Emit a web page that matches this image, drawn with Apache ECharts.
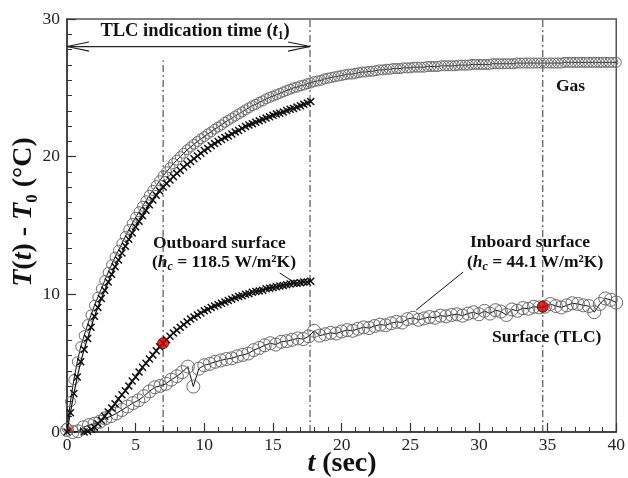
<!DOCTYPE html>
<html><head><meta charset="utf-8">
<script src="https://cdn.jsdelivr.net/npm/echarts@6/dist/echarts.min.js"></script>
<style>html,body{margin:0;padding:0;background:#fff}#c{width:628px;height:478px}</style>
</head><body><div id="c"></div>
<script>
// ---- data ----
const gasStart = 0, gasStep = 0.25;
const gasValues = [0.3,2.2,3.8,5.1,
6.2,7.0,7.8,8.5, 9.2,9.8,10.4,11.0, 11.6,12.15,12.7,13.2, 13.7,14.2,14.7,15.15,
15.6,16.0,16.4,16.8, 17.2,17.55,17.9,18.25, 18.6,18.9,19.2,19.5, 19.75,20.0,20.25,20.5,
20.7,20.9,21.1,21.3, 21.45,21.65,21.8,22.0, 22.15,22.3,22.5,22.65, 22.8,22.95,23.1,23.25,
23.4,23.55,23.7,23.8, 23.95,24.05,24.2,24.3, 24.4,24.5,24.6,24.7, 24.8,24.9,25.0,25.05,
25.15,25.2,25.3,25.35, 25.45,25.5,25.55,25.65, 25.7,25.75,25.8,25.85, 25.9,25.95,26.0,26.0,
26.05,26.1,26.15,26.15, 26.2,26.2,26.25,26.3, 26.3,26.35,26.35,26.4, 26.4,26.4,26.45,26.45,
26.45,26.5,26.5,26.5, 26.5,26.55,26.55,26.55, 26.55,26.6,26.6,26.6, 26.6,26.6,26.65,26.65,
26.65,26.65,26.7,26.7, 26.7,26.7,26.7,26.7, 26.75,26.75,26.75,26.75, 26.75,26.75,26.75,26.8,
26.8,26.8,26.8,26.8, 26.8,26.8,26.8,26.8, 26.8,26.8,26.8,26.8, 26.8,26.85,26.85,26.85,
26.85,26.85,26.85,26.85, 26.85,26.85,26.85,26.85, 26.85,26.85,26.85,26.85, 26.85];

const outGasStart = 0, outGasStep = 0.25;
const outGasValues = [0.0,1.4,2.8,4.0, 5.1,6.0,6.8,7.6, 8.4,9.05,9.7,10.3, 10.9,11.45,12.0,12.5,
13.0,13.5,14.0,14.45, 14.9,15.3,15.7,16.1, 16.5,16.85,17.2,17.5, 17.8,18.05,18.3,18.55,
18.8,19.0,19.25,19.45, 19.65,19.85,20.05,20.25, 20.45,20.6,20.8,20.95, 21.1,21.25,21.4,21.5,
21.65,21.8,21.9,22.05, 22.2,22.3,22.4,22.5, 22.6,22.7,22.8,22.9, 23.0,23.1,23.15,23.25,
23.35,23.45,23.5,23.6, 23.7,23.8,23.9,24.0];

const outSurfStart = 1.25, outSurfStep = 0.25;
const outSurfValues = [0.0,0.05,0.2, 0.35,0.6,0.85,1.15, 1.45,1.75,2.05,2.4, 2.7,3.0,3.35,3.7,
4.0,4.35,4.7,5.0, 5.3,5.6,5.9,6.2, 6.45,6.7,6.95,7.2, 7.4,7.6,7.8,8.0, 8.2,8.35,8.5,8.65,
8.8,8.9,9.05,9.15, 9.25,9.35,9.45,9.55, 9.65,9.75,9.85,9.9, 10.0,10.05,10.15,10.2,
10.25,10.3,10.4,10.45, 10.5,10.55,10.6,10.65, 10.7,10.75,10.8,10.8, 10.85,10.9,10.9,10.95];

const inSurfStart = 0, inSurfStep = 0.4;
const inSurfValues = [0.15,0.0,0.05,0.35,0.5, 0.6,0.75,1.0,1.15,1.35, 1.6,1.85,2.1,2.3,2.6,
2.95,3.25,3.35,3.5,3.8, 4.05,4.35,4.75,3.3,4.6, 4.85,4.95,5.1,5.2,5.3, 5.35,5.5,5.6,5.7,5.95,
6.1,6.3,6.45,6.35,6.55, 6.6,6.7,6.8,6.75,6.95, 7.35,7.0,7.1,7.2,7.15, 7.3,7.4,7.35,7.5,7.6,
7.55,7.7,7.8,7.75,7.9, 8.0,7.95,8.2,8.3,8.15, 8.25,8.35,8.3,8.45,8.4, 8.5,8.55,8.45,8.6,8.7,
8.55,8.8,8.6,8.85,8.75, 8.5,8.9,8.8,9.0,8.95, 9.1,9.05,9.1,9.3,9.15, 9.05,9.2,9.35,9.3,9.2,
9.15,8.7,9.3,9.7,9.6, 9.4];

const tlcPoints = [[7, 6.45], [34.65, 9.1]];
const originPoint = [[0, 0]];
const markerTimes = [7, 17.7, 34.65];
const markerTops = [27, 30, 30];
const arrowLevel = 28, arrowEnd = 17.7;
const leaderInboard = [[28.85, 11.62], [25.43, 8.86]];
const leaderOutboard = [[15.49, 11.55], [16.5, 10.9]];

// ---- build ----
const pairs = (s, st, v) => v.map((y, i) => [+(s + i * st).toFixed(3), y]);
const SERIF = '"Liberation Serif","Times New Roman",serif';
const crossPath = 'path://M0,1.3L1.3,0L5,3.7L8.7,0L10,1.3L6.3,5L10,8.7L8.7,10L5,6.3L1.3,10L0,8.7L3.7,5Z';
const quarter = 'path://M0,10L0,0A10,10 0 0 1 10,10Z';

const dashLine = { color: '#333', width: 1, type: [7, 3, 2, 3] };
const series = [];
markerTimes.forEach((t, i) => series.push({
  type: 'line', data: [[t, 0], [t, markerTops[i]]], symbol: 'none', silent: true,
  lineStyle: dashLine, z: 1
}));
// arrow
const hl = 1.6, hw = 0.33;
series.push({ type: 'line', data: [[0, arrowLevel], [arrowEnd, arrowLevel]], symbol: 'none',
  lineStyle: { color: '#222', width: 1.2 }, z: 1 });
series.push({ type: 'line', data: [[hl, arrowLevel + hw], [0, arrowLevel], [hl, arrowLevel - hw]], symbol: 'none',
  lineStyle: { color: '#222', width: 1.2 }, z: 1 });
series.push({ type: 'line', data: [[arrowEnd - hl, arrowLevel + hw], [arrowEnd, arrowLevel], [arrowEnd - hl, arrowLevel - hw]], symbol: 'none',
  lineStyle: { color: '#222', width: 1.2 }, z: 1 });
// leaders
[leaderInboard, leaderOutboard].forEach(d => series.push({ type: 'line', data: d, symbol: 'none',
  lineStyle: { color: '#111', width: 1 }, z: 1 }));

// inboard surface
series.push({ type: 'line', data: pairs(inSurfStart, inSurfStep, inSurfValues),
  symbol: 'circle', symbolSize: 13, showAllSymbol: true,
  itemStyle: { color: 'rgba(0,0,0,0)', borderColor: '#6a6a6a', borderWidth: 1 },
  lineStyle: { color: '#111', width: 1 }, z: 3 });
// gas
series.push({ type: 'line', data: pairs(gasStart, gasStep, gasValues),
  symbol: 'circle', symbolSize: 10, showAllSymbol: true,
  itemStyle: { color: 'rgba(0,0,0,0)', borderColor: '#6a6a6a', borderWidth: 1 },
  lineStyle: { color: '#111', width: 1 }, z: 3 });
// outboard gas (crosses)
series.push({ type: 'line', data: pairs(outGasStart, outGasStep, outGasValues),
  symbol: crossPath, symbolSize: 8, showAllSymbol: true,
  itemStyle: { color: '#111' }, lineStyle: { color: '#111', width: 1.2 }, z: 4 });
// outboard surface (crosses)
series.push({ type: 'line', data: pairs(outSurfStart, outSurfStep, outSurfValues),
  symbol: crossPath, symbolSize: 8, showAllSymbol: true,
  itemStyle: { color: '#111' }, lineStyle: { color: '#111', width: 1.2 }, z: 4 });
// TLC points
series.push({ type: 'scatter', data: tlcPoints, symbol: 'circle', symbolSize: 11,
  itemStyle: { color: '#d40000', borderColor: '#5a0000', borderWidth: 1 }, z: 6 });
series.push({ type: 'scatter', data: originPoint, symbol: quarter, symbolSize: 6, symbolOffset: [3, -3],
  itemStyle: { color: '#d40000' }, z: 2 });

function mkRich(size, subSize) {
  const base = { fontFamily: SERIF, fontWeight: 'bold', fontSize: size, color: '#111', lineHeight: Math.round(size * 1.2) };
  return {
    b: base,
    bi: Object.assign({}, base, { fontStyle: 'italic' }),
    s: Object.assign({}, base, { fontSize: subSize, lineHeight: Math.round(size * 0.6), verticalAlign: 'bottom' }),
    si: Object.assign({}, base, { fontSize: subSize + 1, lineHeight: Math.round(size * 0.6), verticalAlign: 'bottom', fontStyle: 'italic' })
  };
}
const richSet = mkRich(17.5, 11);
const richTLC = mkRich(18.5, 11.5);
const bigRich = mkRich(28, 17);
function txt(x, y, text, align, rich, rot) {
  return { type: 'text', x: x, y: y, rotation: rot || 0, z: 10,
    style: { text: text, rich: rich || richSet, align: align || 'left', verticalAlign: 'middle',
      font: 'bold 16px ' + SERIF, fill: '#111' } };
}

const chart = echarts.init(document.getElementById('c'), null, { renderer: 'canvas' });
const axisCommon = {
  type: 'value',
  axisLine: { show: true, onZero: false, lineStyle: { color: '#333', width: 1.5 } },
  axisTick: { show: true, inside: true, length: 9, lineStyle: { color: '#333', width: 1.2 } },
  minorTick: { show: true, inside: true, length: 5, lineStyle: { color: '#333', width: 1 } },
  splitLine: { show: false },
  axisLabel: { fontFamily: SERIF, fontSize: 17.5, color: '#222' }
};
chart.setOption({
  animation: false,
  backgroundColor: '#fff',
  grid: { left: 67, right: 10, top: 19, bottom: 46, show: true, borderColor: '#555', borderWidth: 1.5, backgroundColor: 'transparent' },
  xAxis: Object.assign({}, axisCommon, { min: 0, max: 40, interval: 5,
    minorTick: Object.assign({}, axisCommon.minorTick, { splitNumber: 5 }),
    axisLabel: Object.assign({}, axisCommon.axisLabel, { margin: 4 }) }),
  yAxis: Object.assign({}, axisCommon, { min: 0, max: 30, interval: 10,
    minorTick: Object.assign({}, axisCommon.minorTick, { splitNumber: 9 }),
    axisLabel: Object.assign({}, axisCommon.axisLabel, { margin: 7 }) }),
  series: series,
  graphic: [
    txt(195, 31, '{b|TLC indication time (}{bi|t}{s|1}{b|)}', 'center', richTLC),
    txt(556, 86, '{b|Gas}'),
    txt(153, 243, '{b|Outboard surface}'),
    txt(152, 262, '{b|(}{bi|h}{si|c}{b| = 118.5 W/m²K)}'),
    txt(470, 242, '{b|Inboard surface}'),
    txt(467, 262, '{b|(}{bi|h}{si|c}{b| = 44.1 W/m²K)}'),
    txt(492, 337, '{b|Surface (TLC)}'),
    txt(342, 464, '{bi|t}{b| (sec)}', 'center', bigRich),
    txt(24, 212, '{bi|T}{b|(}{bi|t}{b|) - }{bi|T}{s|0}{b| (°C)}', 'center', bigRich, Math.PI / 2)
  ]
});
</script></body></html>
